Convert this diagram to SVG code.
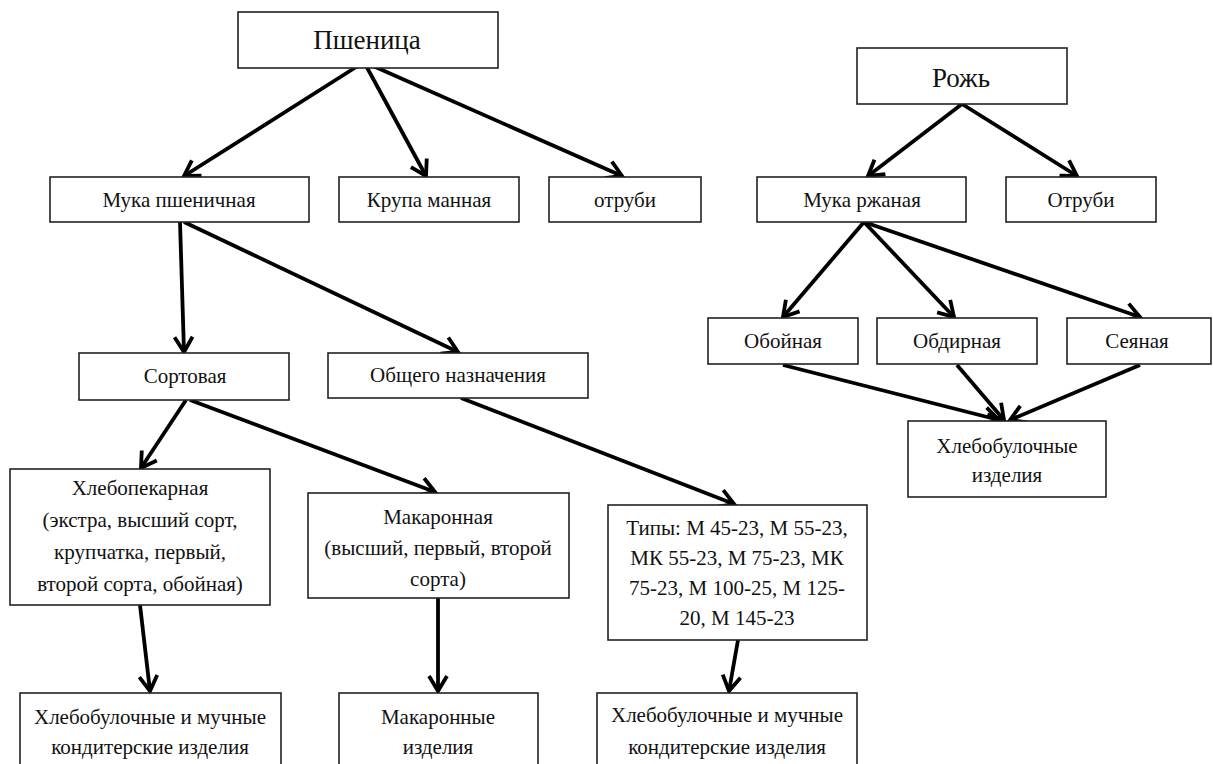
<svg xmlns="http://www.w3.org/2000/svg" width="1213" height="764" viewBox="0 0 1213 764">
<style>
.box{fill:#fff;stroke:#222;stroke-width:1.6}
text{font-family:'Liberation Serif','Times New Roman','DejaVu Serif',serif;font-size:21px;fill:#111;text-anchor:middle}
.big{font-size:27px}
.c{stroke:#000;stroke-width:3.8;fill:none;marker-end:url(#ah)}
</style>
<defs>
<marker id="ah" markerUnits="userSpaceOnUse" viewBox="0 0 22 22" markerWidth="22" markerHeight="22" refX="18" refY="11" orient="auto">
<path d="M3,2 L18,11 L3,20" fill="none" stroke="#000" stroke-width="3.8" stroke-linejoin="miter"/>
</marker>
</defs>
<rect width="1213" height="764" fill="#fff"/>
<g id="connectors">
<line class="c" x1="364" y1="62" x2="184" y2="176"/>
<line class="c" x1="364" y1="62" x2="426" y2="176"/>
<line class="c" x1="364" y1="62" x2="622" y2="176"/>
<line class="c" x1="962" y1="104" x2="868" y2="176"/>
<line class="c" x1="962" y1="104" x2="1077" y2="176"/>
<line class="c" x1="864" y1="222" x2="783" y2="317"/>
<line class="c" x1="864" y1="222" x2="954" y2="317"/>
<line class="c" x1="864" y1="222" x2="1140" y2="317"/>
<line class="c" x1="783" y1="365" x2="999" y2="420"/>
<line class="c" x1="957" y1="365" x2="1004" y2="420"/>
<line class="c" x1="1140" y1="365" x2="1010" y2="420"/>
<line class="c" x1="180" y1="222" x2="184" y2="352"/>
<line class="c" x1="184" y1="222" x2="458" y2="352"/>
<line class="c" x1="186" y1="400" x2="141" y2="468"/>
<line class="c" x1="190" y1="400" x2="435" y2="492"/>
<line class="c" x1="461" y1="398" x2="734" y2="504"/>
<line class="c" x1="140" y1="605" x2="150" y2="691"/>
<line class="c" x1="438" y1="598" x2="438" y2="691"/>
<line class="c" x1="738" y1="640" x2="729" y2="691"/>
</g>
<g id="n-wheat"><rect class="box" x="238" y="12" width="260" height="56"/><text class="big" x="367" y="49">Пшеница</text></g>
<g id="n-flour-w"><rect class="box" x="50" y="177" width="259" height="45"/><text x="179" y="207">Мука пшеничная</text></g>
<g id="n-semolina"><rect class="box" x="339" y="177" width="180" height="45"/><text x="429" y="207">Крупа манная</text></g>
<g id="n-bran-w"><rect class="box" x="549" y="177" width="152" height="45"/><text x="625" y="207">отруби</text></g>
<g id="n-rye"><rect class="box" x="857" y="48" width="210" height="56"/><text class="big" x="961" y="87">Рожь</text></g>
<g id="n-flour-r"><rect class="box" x="757" y="177" width="209" height="45"/><text x="862" y="207">Мука ржаная</text></g>
<g id="n-bran-r"><rect class="box" x="1006" y="177" width="150" height="45"/><text x="1081" y="207">Отруби</text></g>
<g id="n-oboi"><rect class="box" x="708" y="318" width="150" height="46"/><text x="783" y="348">Обойная</text></g>
<g id="n-obdir"><rect class="box" x="877" y="318" width="160" height="46"/><text x="957" y="348">Обдирная</text></g>
<g id="n-seyan"><rect class="box" x="1067" y="318" width="144" height="46"/><text x="1137" y="348">Сеяная</text></g>
<g id="n-bread-r"><rect class="box" x="908" y="421" width="198" height="76"/><text x="1007" y="453">Хлебобулочные</text><text x="1007" y="482">изделия</text></g>
<g id="n-sort"><rect class="box" x="79" y="353" width="210" height="47"/><text x="185" y="383">Сортовая</text></g>
<g id="n-general"><rect class="box" x="328" y="353" width="260" height="45"/><text x="458" y="382">Общего назначения</text></g>
<g id="n-bakery"><rect class="box" x="10" y="469" width="260" height="136"/><text x="140" y="495">Хлебопекарная</text><text x="140" y="527">(экстра, высший сорт,</text><text x="140" y="559">крупчатка, первый,</text><text x="140" y="591">второй сорта, обойная)</text></g>
<g id="n-pasta"><rect class="box" x="308" y="493" width="261" height="105"/><text x="438" y="524">Макаронная</text><text x="438" y="555">(высший, первый, второй</text><text x="438" y="586">сорта)</text></g>
<g id="n-types"><rect class="box" x="608" y="505" width="259" height="135"/><text x="737" y="535">Типы: М 45-23, М 55-23,</text><text x="737" y="565">МК 55-23, М 75-23, МК</text><text x="737" y="595">75-23, М 100-25, М 125-</text><text x="737" y="625">20, М 145-23</text></g>
<g id="n-prod1"><rect class="box" x="20" y="693" width="261" height="80"/><text x="150" y="724">Хлебобулочные и мучные</text><text x="150" y="754">кондитерские изделия</text></g>
<g id="n-prod2"><rect class="box" x="339" y="693" width="199" height="80"/><text x="438" y="724">Макаронные</text><text x="438" y="754">изделия</text></g>
<g id="n-prod3"><rect class="box" x="597" y="693" width="260" height="80"/><text x="727" y="722">Хлебобулочные и мучные</text><text x="727" y="754">кондитерские изделия</text></g>
</svg>
